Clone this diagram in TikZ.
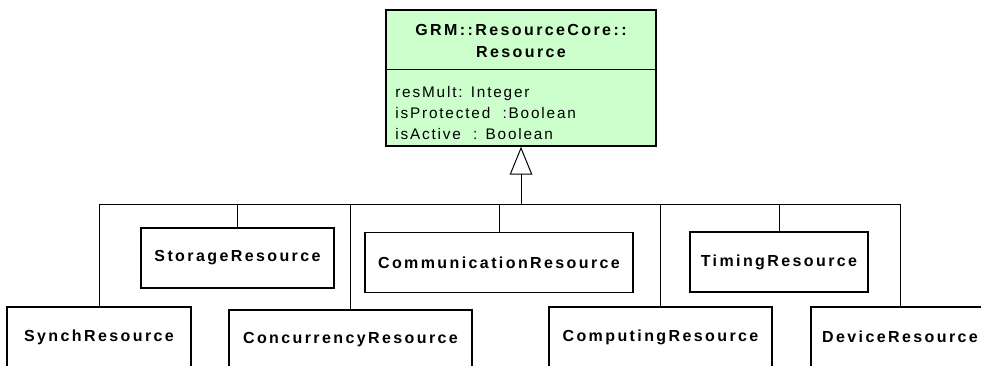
\documentclass[tikz,border=0pt]{standalone}
\usepackage{fontspec}
\setmainfont{Liberation Sans}
\newfontfamily\umlbold{Liberation Sans}[LetterSpace=15]
\newfontfamily\umlattr{Liberation Sans}[LetterSpace=12]
\usetikzlibrary{arrows.meta}

\begin{document}
\begin{tikzpicture}
[
	x=0.75pt,
	y=-0.75pt,
	classbox/.style={draw,line width=1.1pt,inner sep=0pt,minimum height=45pt,font=\umlbold\bfseries\fontsize{12}{14}\selectfont},
	conn/.style={draw,line width=0.75pt},
	genarrow/.style={-{Triangle[open,length=21pt,width=17pt,line width=0.75pt]}}
]

	% page
	\path[use as bounding box] (0,0) rectangle (981,365);
	\clip (0,0) rectangle (981,365);

	% superclass
	\node[draw,line width=1.1pt,fill={rgb,255:red,204;green,255;blue,204},inner sep=0pt,minimum width=202.5pt,minimum height=102pt] (resource) at (521,78) {};
	\node[align=center,font=\umlbold\bfseries\fontsize{12}{16.5}\selectfont] (resname) at (521,41) {GRM::ResourceCore::\\Resource};
	\node[anchor=west,align=left,inner sep=0pt,font=\umlattr\fontsize{11.5}{15.75}\selectfont] (resattr) at (395,113.5) {resMult: Integer\\isProtected\ \ :Boolean\\isActive\ \ : Boolean};
	\coordinate (sep) at (521,69);
	\draw[line width=0.75pt] (resource.west |- sep) -- (resource.east |- sep);

	% subclasses
	\node[classbox,minimum width=138pt] (synch) at (99,337) {SynchResource};
	\node[classbox,minimum width=144.75pt] (storage) at (237.5,258) {StorageResource};
	\node[classbox,minimum width=182.25pt] (concurrency) at (350.5,340) {ConcurrencyResource};
	\node[classbox,minimum width=201pt] (communication) at (499,262.5) {CommunicationResource};
	\node[classbox,minimum width=167.25pt] (computing) at (660.5,337) {ComputingResource};
	\node[classbox,minimum width=133.5pt] (timing) at (779,262) {TimingResource};
	\node[classbox,minimum width=133.5pt] (device) at (900,337) {DeviceResource};

	% generalization tree
	\coordinate (bus) at (521,204);
	\foreach \sub in {synch,storage,concurrency,communication,computing,timing,device} {
		\draw[conn] (\sub.north) |- (bus);
	}
	\draw[conn,genarrow] (bus) -- (resource.south);

\end{tikzpicture}
\end{document}
